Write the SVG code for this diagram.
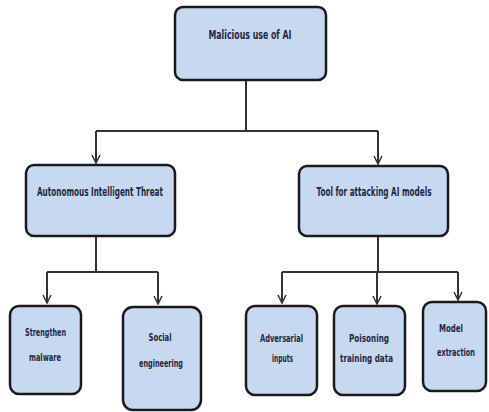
<svg xmlns="http://www.w3.org/2000/svg" width="489" height="412" viewBox="0 0 489 412">
<defs>
<style>
.box{fill:#c6d9f1;stroke:#1a1a1a;stroke-width:2.5}
.t{font-family:"Liberation Sans Narrow","DejaVu Sans Condensed","Liberation Sans",sans-serif;fill:#1f2740;text-anchor:middle;font-weight:bold}
.big{font-size:11.5px}
.sm{font-size:10px}
.c{fill:none;stroke:#333;stroke-width:2}
</style>
<marker id="ar" viewBox="0 0 10 10" refX="9" refY="5" markerWidth="10" markerHeight="10" markerUnits="userSpaceOnUse" orient="auto">
<path d="M1,1 L9,5 L1,9" fill="none" stroke="#333" stroke-width="1.5"/>
</marker>
</defs>
<rect width="489" height="412" fill="#fff"/>
<g id="connectors">
<path class="c" d="M246,80 V131"/>
<path class="c" d="M96,131 H378"/>
<path class="c" d="M96,131 V163" marker-end="url(#ar)"/>
<path class="c" d="M378,131 V164" marker-end="url(#ar)"/>
<path class="c" d="M96,236 V272"/>
<path class="c" d="M47,272 H158"/>
<path class="c" d="M47,272 V303" marker-end="url(#ar)"/>
<path class="c" d="M158,272 V304" marker-end="url(#ar)"/>
<path class="c" d="M378,236 V272"/>
<path class="c" d="M282,272 H458"/>
<path class="c" d="M282,272 V303" marker-end="url(#ar)"/>
<path class="c" d="M377,272 V304" marker-end="url(#ar)"/>
<path class="c" d="M458,272 V300" marker-end="url(#ar)"/>
</g>
<g id="root">
<rect class="box" x="175" y="7" width="151" height="73" rx="8"/>
<text class="t big" x="250" y="39" textLength="83" lengthAdjust="spacingAndGlyphs">Malicious use of AI</text>
</g>
<g id="autonomous">
<rect class="box" x="26" y="165" width="149" height="71" rx="8"/>
<text class="t big" x="100" y="196" textLength="126" lengthAdjust="spacingAndGlyphs">Autonomous Intelligent Threat</text>
</g>
<g id="tool">
<rect class="box" x="299" y="166" width="149" height="70" rx="8"/>
<text class="t big" x="374" y="196" textLength="115" lengthAdjust="spacingAndGlyphs">Tool for attacking AI models</text>
</g>
<g id="strengthen">
<rect class="box" x="10" y="306" width="71" height="88" rx="9"/>
<text class="t sm" x="45.5" y="336" textLength="41" lengthAdjust="spacingAndGlyphs">Strengthen</text>
<text class="t sm" x="45" y="361" textLength="32" lengthAdjust="spacingAndGlyphs">malware</text>
</g>
<g id="social">
<rect class="box" x="123" y="307" width="78" height="103" rx="10"/>
<text class="t sm" x="160" y="341" textLength="23" lengthAdjust="spacingAndGlyphs">Social</text>
<text class="t sm" x="161" y="367" textLength="44" lengthAdjust="spacingAndGlyphs">engineering</text>
</g>
<g id="adversarial">
<rect class="box" x="246" y="306" width="71" height="89" rx="9"/>
<text class="t sm" x="281.5" y="342" textLength="43" lengthAdjust="spacingAndGlyphs">Adversarial</text>
<text class="t sm" x="282.5" y="362" textLength="21" lengthAdjust="spacingAndGlyphs">inputs</text>
</g>
<g id="poisoning">
<rect class="box" x="334" y="306" width="71" height="89" rx="9"/>
<text class="t sm" x="369" y="342" textLength="40" lengthAdjust="spacingAndGlyphs">Poisoning</text>
<text class="t sm" x="366.5" y="362" textLength="53" lengthAdjust="spacingAndGlyphs">training data</text>
</g>
<g id="model">
<rect class="box" x="423" y="302" width="63" height="89" rx="9"/>
<text class="t sm" x="451" y="332" textLength="24" lengthAdjust="spacingAndGlyphs">Model</text>
<text class="t sm" x="456" y="356" textLength="38" lengthAdjust="spacingAndGlyphs">extraction</text>
</g>
</svg>
